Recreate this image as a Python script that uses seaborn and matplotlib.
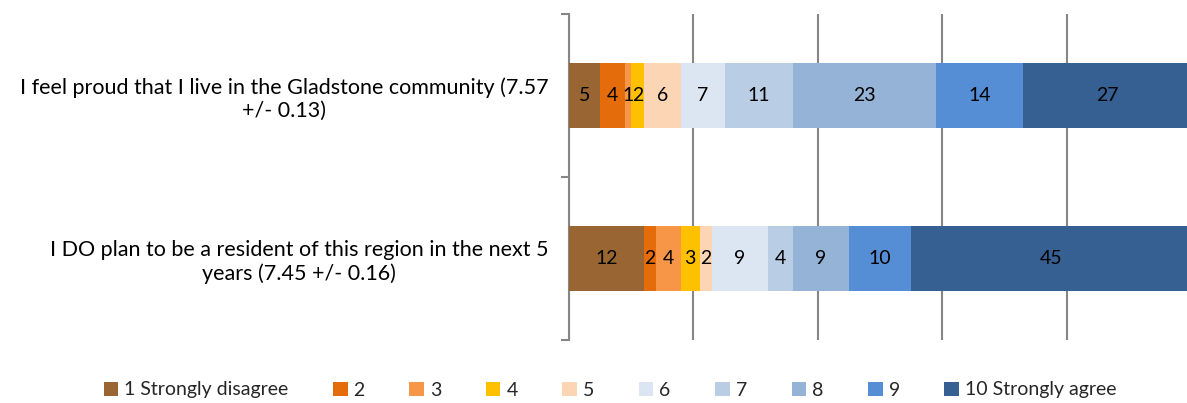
import numpy as np
import pandas as pd
import matplotlib
matplotlib.use("Agg")
import matplotlib.pyplot as plt
from matplotlib.patches import Patch
import seaborn as sns

# Survey statements (y categories)
statements = [
    "I feel proud that I live in the Gladstone community (7.57\n+/- 0.13)",
    "I DO plan to be a resident of this region in the next 5\nyears (7.45 +/- 0.16)",
]

# Response scale
levels = ["1 Strongly disagree", "2", "3", "4", "5", "6", "7", "8", "9", "10 Strongly agree"]

# Percentage of respondents at each level
proud_pct = [5, 4, 1, 2, 6, 7, 11, 23, 14, 27]
resident_pct = [12, 2, 4, 3, 2, 9, 4, 9, 10, 45]

level_colors = ["#996633", "#E46C0A", "#F79646", "#FFC000", "#FCD5B5",
                "#DCE6F2", "#B9CDE5", "#95B3D7", "#558ED5", "#376092"]

sns.set_theme(style="white")
plt.rcParams["font.family"] = ["Lato", "DejaVu Sans"]

values = np.array([proud_pct, resident_pct], dtype=float)
cumulative = np.cumsum(values, axis=1)

fig = plt.figure(figsize=(11.87, 4.03), dpi=100)
ax = fig.add_axes([569 / 1187, 1 - 340 / 403, (1191 - 569) / 1187, (340 - 14) / 403])

# Stack by drawing cumulative totals from the outermost level inward
for k in range(len(levels) - 1, -1, -1):
    df = pd.DataFrame({"statement": statements, "total": cumulative[:, k]})
    sns.barplot(data=df, x="total", y="statement", orient="h", color=level_colors[k],
                saturation=1, width=0.4, linewidth=0, ax=ax, zorder=3)

# Segment value labels at the middle of each segment
for i in range(len(statements)):
    for k in range(len(levels)):
        start = cumulative[i, k] - values[i, k]
        ax.text(start + values[i, k] / 2, i, f"{values[i, k]:.0f}", ha="center", va="center",
                fontsize=14, color="black", zorder=4)

ax.set_xlim(0, 100)
ax.set_ylim(1.5, -0.5)
ax.set_xticks([0, 20, 40, 60, 80, 100])
ax.set_xticklabels([])
ax.tick_params(axis="x", length=0)
ax.grid(axis="x", color="#868686", linewidth=1.5, zorder=0)
ax.grid(axis="y", visible=False)
ax.set_xlabel("")
ax.set_ylabel("")

# Category boundary ticks on the left axis
ax.set_yticks([-0.5, 0.5, 1.5], minor=True)
ax.tick_params(axis="y", which="minor", length=6, width=1.5, color="#868686", left=True, direction="out")
ax.tick_params(axis="y", which="major", length=0, pad=15)
for lbl in ax.get_yticklabels():
    lbl.set_fontsize(15.5)
    lbl.set_multialignment("center")
    lbl.set_linespacing(1.2)
    lbl.set_color("black")

for side in ["top", "right", "bottom"]:
    ax.spines[side].set_visible(False)
ax.spines["left"].set_color("#868686")
ax.spines["left"].set_linewidth(1.5)

handles = [Patch(facecolor=c, edgecolor="none") for c in level_colors]
fig.legend(handles, levels, loc="center", bbox_to_anchor=(610 / 1187, 1 - 390 / 403), ncol=10,
           frameon=False, fontsize=14, handlelength=0.75, handleheight=0.75,
           handletextpad=0.3, columnspacing=2.3)

fig.savefig("out.png", dpi=100)
